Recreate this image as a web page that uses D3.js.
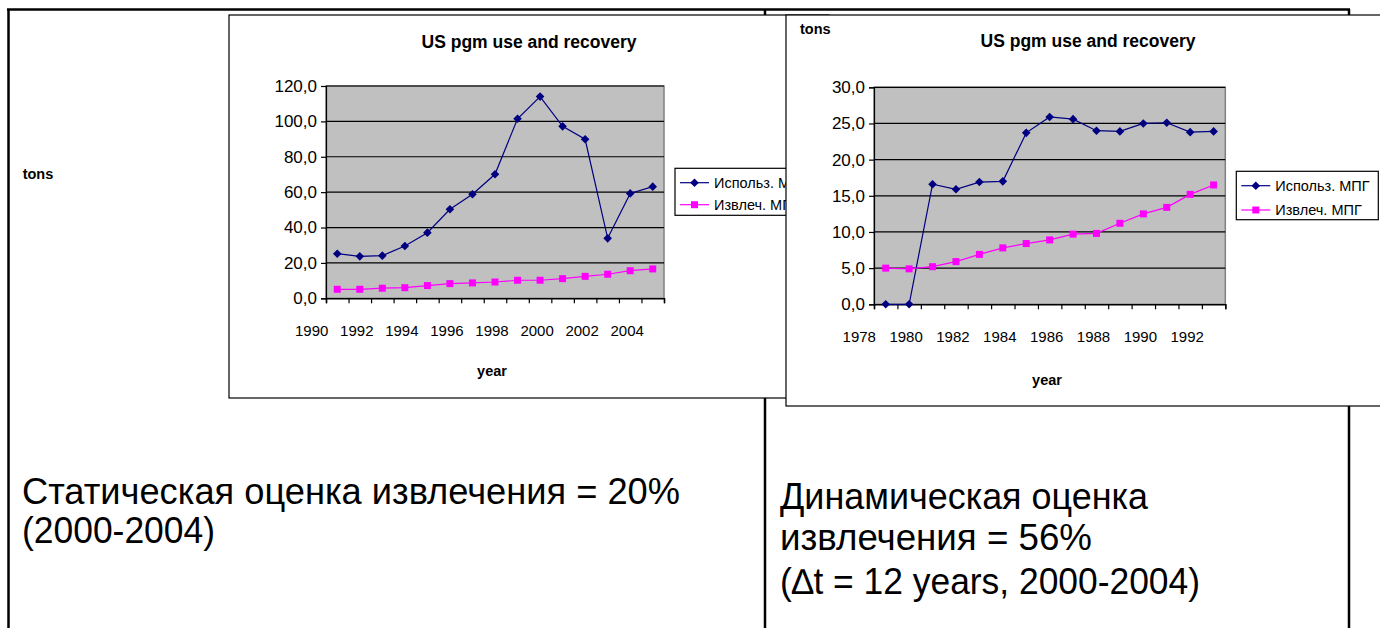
<!DOCTYPE html>
<html><head><meta charset="utf-8">
<script src="https://cdn.jsdelivr.net/npm/d3@7/dist/d3.min.js"></script>
<style>
body{margin:0;background:#fff;}
svg{display:block;}
text{font-family:"Liberation Sans",Arial,sans-serif;fill:#000;}
</style>
</head><body>
<svg id="c" width="1380" height="628"></svg>
<script>
// ---------- data ----------
const chartTitle = "US pgm use and recovery";
const seriesNames = ["Использ. МПГ", "Извлеч. МПГ"];
const yTitle = "tons";
const xTitle = "year";

const yearsA = [1991,1992,1993,1994,1995,1996,1997,1998,1999,2000,2001,2002,2003,2004,2005];
const useA   = [25.2,23.7,24.1,29.6,37.1,50.3,58.8,70.1,101.5,114.0,97.2,89.9,33.9,59.3,63.1];
const recA   = [5.1,5.1,5.7,6.0,7.2,8.3,8.7,9.2,10.2,10.2,11.1,12.4,13.6,15.6,16.6];
const yTicksA = [0,20,40,60,80,100,120];
const xLabelsA = [1990,1992,1994,1996,1998,2000,2002,2004];

const yearsB = [1979,1980,1981,1982,1983,1984,1985,1986,1987,1988,1989,1990,1991,1992,1993];
const useB   = [0,0,16.6,15.9,16.9,17.0,23.7,25.9,25.6,24.0,23.9,25.0,25.1,23.8,23.9];
const recB   = [5.0,4.9,5.2,5.9,6.9,7.8,8.4,8.9,9.7,9.8,11.2,12.5,13.4,15.2,16.5];
const yTicksB = [0,5,10,15,20,25,30];
const xLabelsB = [1978,1980,1982,1984,1986,1988,1990,1992];

const leftNote  = ["Статическая оценка извлечения = 20%", "(2000-2004)"];
const rightNote = ["Динамическая оценка", "извлечения = 56%", "(\u2206t = 12 years, 2000-2004)"];

const colors = {use:"#000080", rec:"#FF00FF", plot:"#C0C0C0"};

// ---------- drawing ----------
const svg = d3.select("#c");
const fmt = v => d3.format(".1f")(v).replace(".", ",");

// table frame
const frame = svg.append("g").attr("stroke","#000").attr("stroke-width",2.5);
frame.append("line").attr("x1",7).attr("x2",1350).attr("y1",9.5).attr("y2",9.5);
frame.append("line").attr("x1",8.5).attr("x2",8.5).attr("y1",9).attr("y2",628);
frame.append("line").attr("x1",765).attr("x2",765).attr("y1",9).attr("y2",628);
frame.append("line").attr("x1",1349).attr("x2",1349).attr("y1",9).attr("y2",628);

function diamond(s){return `M0,${-s}L${s},0L0,${s}L${-s},0Z`;}

function drawChart(o){
  const g = svg.append("g");
  g.append("rect").attr("x",o.box[0]).attr("y",o.box[1]).attr("width",o.box[2]).attr("height",o.box[3])
    .attr("fill","#fff").attr("stroke","#000").attr("stroke-width",1.2);
  const [px0,py0,px1,py1] = o.plot;
  const x = d3.scaleLinear().domain([o.years[0]-0.5, o.years[o.years.length-1]+0.5]).range([px0,px1]);
  const y = d3.scaleLinear().domain([0, o.yTicks[o.yTicks.length-1]]).range([py1,py0]);

  g.append("rect").attr("x",px0).attr("y",py0).attr("width",px1-px0).attr("height",py1-py0)
    .attr("fill",colors.plot).attr("stroke","#808080").attr("stroke-width",1.5);
  g.append("g").selectAll("line").data(o.yTicks.filter(t=>t>0)).join("line")
    .attr("x1",px0).attr("x2",px1).attr("y1",d=>y(d)).attr("y2",d=>y(d))
    .attr("stroke","#000").attr("stroke-width",1.2);

  const ya = g.append("g").attr("transform",`translate(${px0},0)`)
    .call(d3.axisLeft(y).tickValues(o.yTicks).tickSize(5).tickPadding(4).tickFormat(fmt));
  ya.select(".domain").attr("stroke","#000").attr("stroke-width",1.2);
  ya.selectAll(".tick line").attr("stroke","#000").attr("stroke-width",1.2);
  ya.selectAll("text").attr("font-size",17)
    .attr("font-family","'Liberation Sans',Arial,sans-serif").attr("fill","#000");

  const bounds = d3.range(x.domain()[0], x.domain()[1]+0.001, 1);
  const xa = g.append("g").attr("transform",`translate(0,${py1})`)
    .call(d3.axisBottom(x).tickValues(bounds).tickSize(5).tickFormat(""));
  xa.select(".domain").attr("stroke","#000").attr("stroke-width",1.5);
  xa.selectAll(".tick line").attr("stroke","#000").attr("stroke-width",1.2);

  g.append("g").selectAll("text").data(o.xLabels).join("text")
    .attr("x",d=>x(d)-3).attr("y",o.xLabelY).attr("text-anchor","middle")
    .attr("font-size",15).text(d=>d);

  const line = d3.line().x((d,i)=>x(o.years[i])).y(d=>y(d));
  g.append("path").datum(o.use).attr("d",line).attr("fill","none").attr("stroke",colors.use).attr("stroke-width",1.2);
  g.append("g").selectAll("path").data(o.use).join("path")
    .attr("transform",(d,i)=>`translate(${x(o.years[i])},${y(d)})`).attr("d",diamond(4.3)).attr("fill",colors.use);
  g.append("path").datum(o.rec).attr("d",line).attr("fill","none").attr("stroke",colors.rec).attr("stroke-width",1.2);
  g.append("g").selectAll("rect").data(o.rec).join("rect")
    .attr("x",(d,i)=>x(o.years[i])-3.5).attr("y",d=>y(d)-3.5).attr("width",7).attr("height",7).attr("fill",colors.rec);

  g.append("text").attr("x",o.titleX).attr("y",o.titleY).attr("text-anchor","middle")
    .attr("font-size",17.5).attr("font-weight","bold").text(chartTitle);
  g.append("text").attr("x",o.tons[0]).attr("y",o.tons[1]).attr("font-size",14.5).attr("font-weight","bold").text(yTitle);
  g.append("text").attr("x",o.year[0]).attr("y",o.year[1]).attr("text-anchor","middle")
    .attr("font-size",14.5).attr("font-weight","bold").text(xTitle);

  // legend
  const [lx,ly,lw,lh] = o.legend;
  const lg = g.append("g");
  lg.append("rect").attr("x",lx).attr("y",ly).attr("width",lw).attr("height",lh)
    .attr("fill","#fff").attr("stroke","#000").attr("stroke-width",1.2);
  const items = [{c:colors.use, m:"d"},{c:colors.rec, m:"s"}];
  items.forEach((it,i)=>{
    const cy = o.legRows[i];
    lg.append("line").attr("x1",lx+5).attr("x2",lx+34).attr("y1",cy).attr("y2",cy).attr("stroke",it.c).attr("stroke-width",1.2);
    if(it.m==="d") lg.append("path").attr("transform",`translate(${lx+19.5},${cy})`).attr("d",diamond(4.3)).attr("fill",it.c);
    else lg.append("rect").attr("x",lx+16).attr("y",cy-3.5).attr("width",7).attr("height",7).attr("fill",it.c);
    lg.append("text").attr("x",lx+39).attr("y",cy+5).attr("font-size",14.5).text(seriesNames[i]);
  });
}

drawChart({
  box:[229,15,600,383], plot:[326,86,664,298.3],
  years:yearsA, use:useA, rec:recA, yTicks:yTicksA, xLabels:xLabelsA, xLabelY:335.7,
  titleX:529, titleY:47.5, tons:[22.7,179], year:[492,376],
  legend:[675,168.3,160,47], legRows:[182.7,204.7]
});
drawChart({
  box:[786,15,620,391], plot:[874,87.3,1225.3,304.3],
  years:yearsB, use:useB, rec:recB, yTicks:yTicksB, xLabels:xLabelsB, xLabelY:342.3,
  titleX:1088, titleY:47, tons:[800,34], year:[1047,385],
  legend:[1236.3,171.3,142,48.4], legRows:[185.7,210]
});

// notes
const notes = svg.append("g").attr("font-size",36);
notes.append("text").attr("x",22).attr("y",504).attr("textLength",658).attr("lengthAdjust","spacingAndGlyphs").text(leftNote[0]);
notes.append("text").attr("x",22).attr("y",543).attr("textLength",193).attr("lengthAdjust","spacingAndGlyphs").text(leftNote[1]);
notes.append("text").attr("x",780).attr("y",509).attr("textLength",368).attr("lengthAdjust","spacingAndGlyphs").text(rightNote[0]);
notes.append("text").attr("x",780).attr("y",550).attr("textLength",312).attr("lengthAdjust","spacingAndGlyphs").text(rightNote[1]);
notes.append("text").attr("x",780).attr("y",594).attr("textLength",420).attr("lengthAdjust","spacingAndGlyphs").text(rightNote[2]);
</script>
</body></html>
